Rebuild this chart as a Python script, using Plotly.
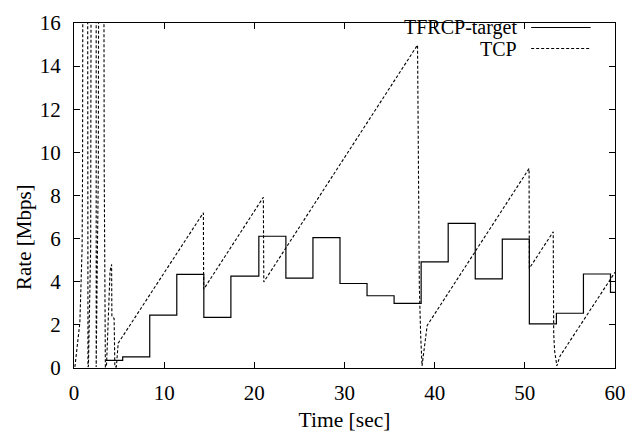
import plotly.graph_objects as go

# TFRCP-target rate (step function), step start times [sec] and levels [Mbps]
tfrcp_t = [3.5, 5.4, 8.4, 11.4, 14.4, 17.4, 20.5, 23.5, 26.5, 29.5, 32.5, 35.5,
           38.5, 41.5, 44.5, 47.5, 50.5, 53.5, 56.5, 59.5, 60.0]
tfrcp_r = [0.35, 0.52, 2.45, 4.34, 2.35, 4.26, 6.11, 4.17, 6.05, 3.92, 3.35, 3.0,
           4.92, 6.71, 4.13, 5.98, 2.05, 2.54, 4.36, 3.51, 3.51]

# TCP rate (sawtooth); values above 16 go off the top of the chart
tcp_t = [0.1, 0.65, 0.9, 0.95, 1.0, 1.5, 1.55, 1.6, 1.85, 1.92, 2.46, 2.46,
         2.55, 2.7, 2.75, 3.29, 3.35, 3.45, 3.48, 3.6, 3.9, 4.0, 4.17, 4.2,
         4.45, 4.53, 4.7, 4.9, 14.35, 14.38, 21.0, 21.05, 38.1, 38.26, 38.3,
         38.45, 38.6, 39.17, 50.47, 50.5, 53.15, 53.2, 53.3, 53.55, 53.9, 60.0]
tcp_r = [0.05, 2.1, 5.6, 9.2, 25, 25, 0.05, 0.1, 5.6, 25, 25, 0.05,
         3.6, 9.2, 25, 25, 9.2, 2.5, 0.05, 0.05, 2.9, 4.5, 4.8, 2.4,
         2.3, 0.05, 0.05, 1.15, 7.2, 3.65, 7.92, 3.99, 14.98, 7.5, 3.77,
         1.5, 0.1, 1.97, 9.25, 4.62, 6.32, 1.6, 0.8, 0.1, 0.55, 4.44]

x_ticks = [0, 10, 20, 30, 40, 50, 60]
y_ticks = [0, 2, 4, 6, 8, 10, 12, 14, 16]

FONT = "Liberation Serif, Times New Roman, serif"

fig = go.Figure()
fig.add_trace(go.Scatter(x=tfrcp_t, y=tfrcp_r, mode="lines", line_shape="hv",
                         line=dict(color="black", width=1.2),
                         name="TFRCP-target", showlegend=False))
fig.add_trace(go.Scatter(x=tcp_t, y=tcp_r, mode="lines",
                         line=dict(color="black", width=1.1, dash="3px,2px"),
                         name="TCP", showlegend=False))

# legend drawn gnuplot-style: text on the left, sample on the right
leg = [("TFRCP-target", 0.987, "solid"), ("TCP", 0.926, "3px,2px")]
for label, yp, dash in leg:
    fig.add_annotation(x=0.821, y=yp, xref="paper", yref="paper", text=label,
                       showarrow=False, xanchor="right", yanchor="middle",
                       borderpad=0,
                       font=dict(family=FONT, size=20, color="black"))
    fig.add_shape(type="line", xref="paper", yref="paper", x0=0.845, x1=0.955,
                  y0=yp, y1=yp, line=dict(color="black", width=1.1, dash=dash))

# y-axis title placed as in the reference (slightly below the plot centre)
fig.add_annotation(x=-0.0935, y=0.381, xref="paper", yref="paper", text="Rate [Mbps]",
                   showarrow=False, textangle=-90, xanchor="center", yanchor="middle",
                   font=dict(family=FONT, size=21, color="black"))

axis_common = dict(showgrid=False, zeroline=False, showline=True, linecolor="black",
                   linewidth=1.2, mirror="ticks", ticks="inside", ticklen=6,
                   tickcolor="black", tickwidth=1,
                   tickfont=dict(family=FONT, size=21, color="black"))

fig.update_xaxes(range=[0, 60], tickvals=x_ticks, ticktext=[str(v) for v in x_ticks],
                 title=dict(text="Time [sec]", font=dict(family=FONT, size=21.5, color="black"),
                            standoff=7),
                 ticklabelstandoff=6, **axis_common)
fig.update_yaxes(range=[0, 16], tickvals=y_ticks, ticktext=[str(v) for v in y_ticks],
                 ticklabelstandoff=8, **axis_common)

fig.update_layout(width=637, height=438, margin=dict(l=74, r=11, t=12, b=69),
                  paper_bgcolor="white", plot_bgcolor="white", showlegend=False)

fig.write_html("out.html")
